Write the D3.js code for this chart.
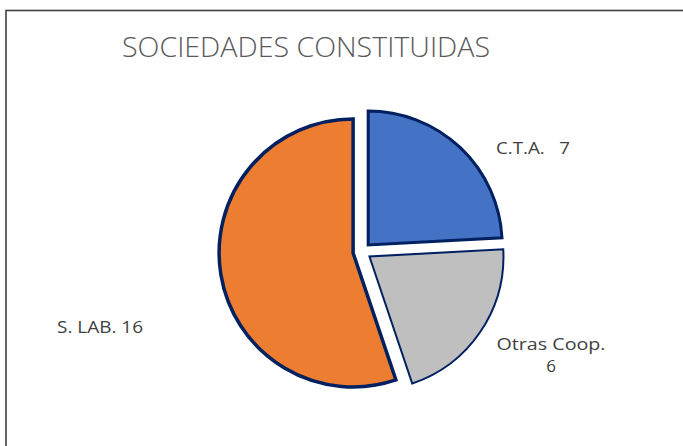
<!DOCTYPE html>
<html><head><meta charset="utf-8">
<script src="https://cdn.jsdelivr.net/npm/d3@7"></script>
<style>html,body{margin:0;padding:0;background:#fff;}svg{display:block;}text{white-space:pre;}</style>
</head><body>
<script>
const categories = ["C.T.A.", "Otras Coop.", "S. LAB."];
const values = [7, 6, 16];
const labelTexts = [["C.T.A.   7"], ["Otras Coop.", "6"], ["S. LAB. 16"]];
const colors = ["#4472C4", "#BFBFBF", "#ED7D31"];
const strokeWidths = [3, 2, 3.5];

const W = 683, H = 446;
const svg = d3.select("body").append("svg").attr("width", W).attr("height", H);

// chart border
svg.append("rect").attr("x", 6).attr("y", 10.5).attr("width", 800).attr("height", 600)
  .attr("fill", "none").attr("stroke", "#404040").attr("stroke-width", 1.6);

svg.append("text").attr("x", 122).attr("y", 57)
  .attr("font-family", "'Open Sans', Lato, sans-serif").attr("font-weight", 300)
  .attr("font-size", 28).attr("fill", "#595959")
  .attr("textLength", 368).attr("lengthAdjust", "spacingAndGlyphs")
  .text("SOCIEDADES CONSTITUIDAS");

const cx = 362, cy = 251.5, r = 134, explode = 9;
const pie = d3.pie().sort(null).value(d => d);
const arcs = pie(values);
const arc = d3.arc().innerRadius(0).outerRadius(r);

const g = svg.append("g").attr("transform", `translate(${cx},${cy})`);
g.selectAll("path").data(arcs).join("path")
  .attr("d", arc)
  .attr("transform", d => {
    const a = (d.startAngle + d.endAngle) / 2;
    return `translate(${explode * Math.sin(a)},${-explode * Math.cos(a)})`;
  })
  .attr("fill", (d, i) => colors[i])
  .attr("stroke", "#002060")
  .attr("stroke-width", (d, i) => strokeWidths[i])
  .attr("stroke-linejoin", "miter");

// labels
const labelPos = [
  {x: 496, y: 154, anchor: "start", widths: [74]},
  {x: 551, y: 350, anchor: "middle", widths: [109, null], dy: 22},
  {x: 57, y: 333, anchor: "start", widths: [86]}
];
labelTexts.forEach((lines, i) => {
  const p = labelPos[i];
  lines.forEach((t, j) => {
    const tx = svg.append("text")
      .attr("x", p.x).attr("y", p.y + j * (p.dy || 0))
      .attr("text-anchor", p.anchor)
      .attr("font-family", "'Open Sans', Lato, sans-serif")
      .attr("font-size", 17).attr("fill", "#404040")
      .text(t);
    if (p.widths[j]) tx.attr("textLength", p.widths[j]).attr("lengthAdjust", "spacingAndGlyphs");
  });
});
</script>
</body></html>
